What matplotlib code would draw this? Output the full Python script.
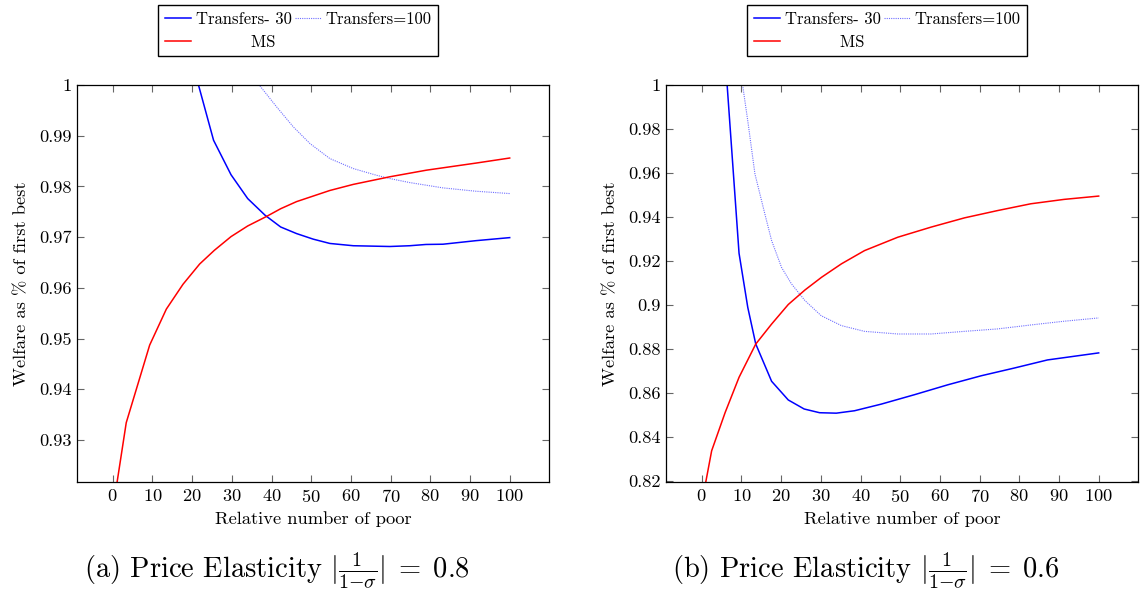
import matplotlib
matplotlib.use("Agg")
import matplotlib.pyplot as plt
from matplotlib.ticker import FuncFormatter

plt.rcParams['font.family'] = 'serif'
plt.rcParams['font.serif'] = ['cmr10']
plt.rcParams['mathtext.fontset'] = 'cm'
plt.rcParams['axes.unicode_minus'] = False
plt.rcParams['axes.formatter.use_mathtext'] = True

# (a) elasticity 0.8
a_t30_x = [17, 21.6, 25.4, 29.8, 34.0, 38.4, 42.3, 46.3, 50.5, 54.7, 60.6, 69.8, 74.8, 78.9, 83.2, 91.5, 100]
a_t30_y = [1.0109, 1.0, 0.9891, 0.9823, 0.9776, 0.9743, 0.9720, 0.9707, 0.9696, 0.96875, 0.9683, 0.96815, 0.9683, 0.96855, 0.9686, 0.9693, 0.9699]
a_t100_x = [32, 36.9, 41.3, 45.5, 49.7, 54.7, 60.6, 66.4, 69.8, 74.8, 83.2, 91.5, 100]
a_t100_y = [1.0045, 1.0, 0.99567, 0.99173, 0.98844, 0.98549, 0.98352, 0.98221, 0.98155, 0.98076, 0.97971, 0.97905, 0.97859]
a_ms_x = [0, 3.4, 9.3, 13.5, 17.7, 21.9, 25.6, 29.8, 34.0, 38.8, 42.3, 46.3, 50.5, 54.7, 60.6, 69.8, 79.0, 91.5, 100]
a_ms_y = [0.9161, 0.9334, 0.9487, 0.9558, 0.9607, 0.9647, 0.9674, 0.9701, 0.9722, 0.9741, 0.9756, 0.9770, 0.9781, 0.9792, 0.9804, 0.9819, 0.9832, 0.9846, 0.9856]

# (b) elasticity 0.6
b_t30_x = [5, 6.4, 9.4, 11.6, 13.6, 17.6, 21.8, 25.8, 29.7, 33.9, 38.5, 45.2, 53.6, 62.0, 70.4, 78.7, 87.1, 100]
b_t30_y = [1.036, 1.0, 0.9235, 0.8989, 0.8823, 0.8653, 0.8568, 0.8527, 0.8510, 0.8508, 0.8519, 0.8549, 0.8592, 0.8637, 0.8678, 0.8713, 0.8750, 0.8782]
b_t100_x = [9, 10.3, 11.7, 13.4, 15.9, 17.6, 20.1, 22.6, 26.0, 30.1, 35.2, 41.0, 49.4, 57.8, 66.2, 74.5, 82.9, 91.3, 100]
b_t100_y = [1.016, 1.0, 0.9824, 0.9596, 0.9414, 0.9293, 0.9171, 0.9096, 0.9020, 0.8951, 0.8906, 0.8880, 0.8868, 0.8868, 0.8880, 0.8891, 0.8909, 0.8926, 0.8941]
b_ms_x = [0, 1.0, 2.5, 5.9, 9.4, 13.6, 17.6, 21.8, 26.0, 30.2, 35.2, 41.0, 49.4, 57.8, 66.2, 74.5, 82.9, 91.3, 100]
b_ms_y = [0.8097, 0.8193, 0.8337, 0.8511, 0.8671, 0.8822, 0.8913, 0.9002, 0.9068, 0.9126, 0.9187, 0.9247, 0.9308, 0.9354, 0.9396, 0.9429, 0.9460, 0.9480, 0.9495]

x_ticks = [0, 10, 20, 30, 40, 50, 60, 70, 80, 90, 100]
a_yticks = [0.93, 0.94, 0.95, 0.96, 0.97, 0.98, 0.99, 1.0]
b_yticks = [0.82, 0.84, 0.86, 0.88, 0.9, 0.92, 0.94, 0.96, 0.98, 1.0]

panels = [
    (a_t30_x, a_t30_y, a_t100_x, a_t100_y, a_ms_x, a_ms_y, a_yticks, 0.9217,
     r"(a) Price Elasticity $|\frac{1}{1{-}\sigma}|\;=\;0.8$"),
    (b_t30_x, b_t30_y, b_t100_x, b_t100_y, b_ms_x, b_ms_y, b_yticks, 0.8195,
     r"(b) Price Elasticity $|\frac{1}{1{-}\sigma}|\;=\;0.6$"),
]

fig = plt.figure(figsize=(11.41, 5.92), dpi=100)
lefts = [0.0675, 0.5837]

for left, p in zip(lefts, panels):
    t30x, t30y, t100x, t100y, msx, msy, yt, ymin, cap = p
    ax = fig.add_axes([left, 0.1858, 0.4140, 0.6706])
    l1, = ax.plot(t30x, t30y, color='blue', lw=1.1, label='Transfers- 30')
    l2, = ax.plot(t100x, t100y, color='#7070ff', lw=0.8, ls=(0, (1, 1)), label='Transfers=100')
    l3, = ax.plot(msx, msy, color='red', lw=1.1, label='          MS')
    ax.set_xlim(-9, 110)
    ax.set_ylim(ymin, 1.0)
    ax.set_xticks(x_ticks)
    ax.set_yticks(yt)
    ax.yaxis.set_major_formatter(FuncFormatter(lambda v, pos: f"{v:g}"))
    ax.tick_params(direction='in', length=5, width=0.8, color='#666666',
                   top=True, right=True, labelsize=13.3, pad=4)
    for s in ax.spines.values():
        s.set_linewidth(0.9)
    ax.set_xlabel("Relative number of poor", fontsize=13.3, labelpad=5)
    ax.set_ylabel("Welfare as % of first best", fontsize=13.3, labelpad=7)
    fig.text(left + 0.1755, 0.037, cap, fontsize=20.5, ha='center', va='center')
    fig.legend(handles=[l1, l3, l2], ncol=2, loc='upper center',
               bbox_to_anchor=(left + 0.194, 0.992), fontsize=12,
               frameon=True, fancybox=False, edgecolor='black', framealpha=1,
               handlelength=1.55, handletextpad=0.3, columnspacing=0.2,
               borderpad=0.4, labelspacing=0.45, borderaxespad=0)

fig.savefig("out.png", dpi=100)
